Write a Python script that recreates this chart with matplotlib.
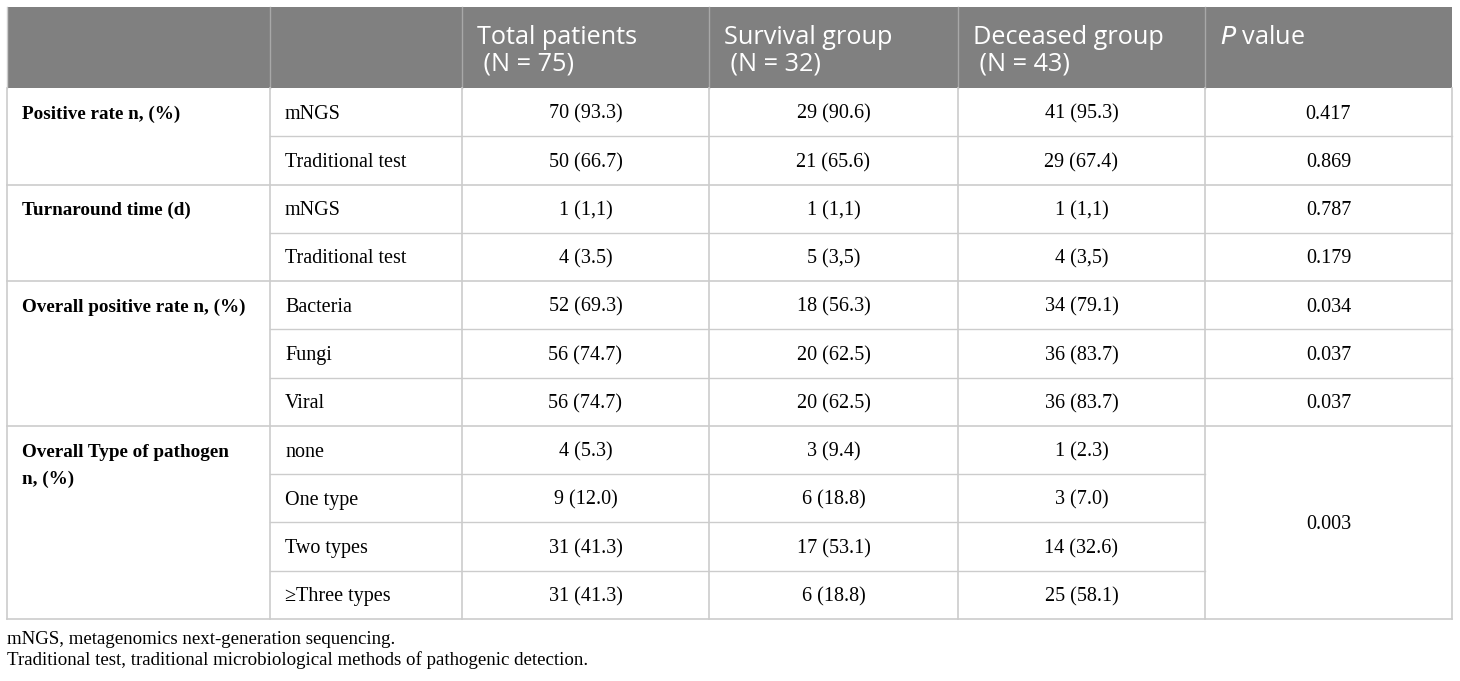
import matplotlib.pyplot as plt

# column headers
headers = ["", "", "Total patients\n (N = 75)", "Survival group\n (N = 32)",
           "Deceased group\n (N = 43)", "$\\mathit{P}$ value"]

groups = ["Positive rate n, (%)", "Turnaround time (d)",
          "Overall positive rate n, (%)", "Overall Type of pathogen\nn, (%)"]
group_sizes = [2, 2, 3, 4]

items = ["mNGS", "Traditional test", "mNGS", "Traditional test",
         "Bacteria", "Fungi", "Viral",
         "none", "One type", "Two types", "\u2265Three types"]
total = ["70 (93.3)", "50 (66.7)", "1 (1,1)", "4 (3.5)",
         "52 (69.3)", "56 (74.7)", "56 (74.7)",
         "4 (5.3)", "9 (12.0)", "31 (41.3)", "31 (41.3)"]
survival = ["29 (90.6)", "21 (65.6)", "1 (1,1)", "5 (3,5)",
            "18 (56.3)", "20 (62.5)", "20 (62.5)",
            "3 (9.4)", "6 (18.8)", "17 (53.1)", "6 (18.8)"]
deceased = ["41 (95.3)", "29 (67.4)", "1 (1,1)", "4 (3,5)",
            "34 (79.1)", "36 (83.7)", "36 (83.7)",
            "1 (2.3)", "3 (7.0)", "14 (32.6)", "25 (58.1)"]
# None = merged cell (last group shares one p value)
pvals = ["0.417", "0.869", "0.787", "0.179", "0.034", "0.037", "0.037",
         "0.003", None, None, None]

footnotes = ["mNGS, metagenomics next-generation sequencing.",
             "Traditional test, traditional microbiological methods of pathogenic detection."]

W, H = 1460, 681
fig = plt.figure(figsize=(W / 100, H / 100), dpi=100)
ax = fig.add_axes([0, 0, 1, 1])
ax.set_xlim(0, W)
ax.set_ylim(H, 0)
ax.axis("off")

cols = [7, 270, 462, 709, 958, 1205, 1452]
top, head_bot = 7, 88
row_h = (619 - head_bot) / len(items)
line_c = "#cccccc"
serif = "Liberation Serif"
sans = "Open Sans"
fs = 14.5
fs_bold = 13.8
lh = 27  # px between stacked lines
dy = 2   # small nudge so serif text sits like the reference

# header
ax.add_patch(plt.Rectangle((cols[0], top), cols[-1] - cols[0], head_bot - top,
                           color="#808080", lw=0))
for x in cols[1:-1]:
    ax.plot([x, x], [top, head_bot], color="#a8a8a8", lw=1)
for i, h in enumerate(headers):
    for j, part in enumerate(h.split("\n")):
        if part:
            ax.text(cols[i] + 15, 37 + j * lh, part, color="white", fontsize=18.2,
                    family=sans, va="center", ha="left")

# body
bottom = head_bot + row_h * len(items)
r = 0
for g, n in zip(groups, group_sizes):
    y0 = head_bot + r * row_h
    for j, part in enumerate(g.split("\n")):
        ax.text(cols[0] + 15, y0 + row_h / 2 + dy + j * lh, part, fontsize=fs_bold,
                family=serif, weight="bold", va="center", ha="left")
    for k in range(n):
        yc = y0 + (k + 0.5) * row_h + dy
        i = r + k
        ax.text(cols[1] + 15, yc, items[i], fontsize=fs, family=serif,
                va="center", ha="left")
        for c, vals in zip([2, 3, 4], [total, survival, deceased]):
            ax.text((cols[c] + cols[c + 1]) / 2, yc, vals[i], fontsize=fs,
                    family=serif, va="center", ha="center")
        if k > 0:
            x_end = cols[-1] if pvals[i] is not None else cols[5]
            ax.plot([cols[1], x_end], [y0 + k * row_h] * 2, color=line_c, lw=1)
    # p value (merged if following are None)
    span = 1
    while span < n and pvals[r + span] is None:
        span += 1
    if span > 1:
        ax.text((cols[5] + cols[6]) / 2, y0 + span * row_h / 2 + dy, pvals[r],
                fontsize=fs, family=serif, va="center", ha="center")
    else:
        for k in range(n):
            ax.text((cols[5] + cols[6]) / 2, y0 + (k + 0.5) * row_h + dy,
                    pvals[r + k], fontsize=fs, family=serif,
                    va="center", ha="center")
    r += n
    ax.plot([cols[0], cols[-1]], [y0 + n * row_h] * 2, color=line_c, lw=1.2)

for x in cols:
    ax.plot([x, x], [head_bot, bottom], color=line_c, lw=1.2)
ax.plot([cols[0], cols[0]], [top, head_bot], color=line_c, lw=1)

for j, t in enumerate(footnotes):
    ax.text(cols[0], 639 + j * 21, t, fontsize=13.6, family=serif,
            va="center", ha="left")

fig.savefig("out.png", dpi=100)
